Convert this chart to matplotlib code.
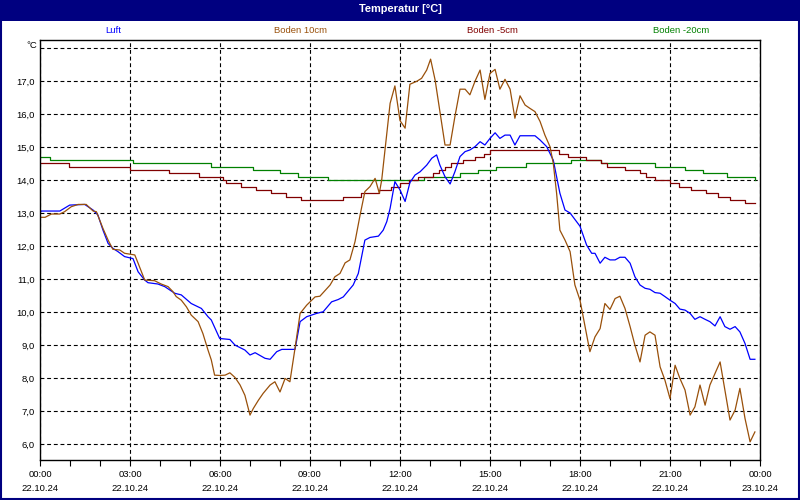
import matplotlib
matplotlib.use('Agg')
import matplotlib.pyplot as plt
from matplotlib.patches import Rectangle
from matplotlib.ticker import MultipleLocator, FixedLocator, FuncFormatter

# time in hours since 22.10.24 00:00
t_luft = [0, 0.04, 0.66, 0.99, 1.49, 1.77, 1.93, 2.1, 2.27, 2.43, 2.6, 2.82, 3.1, 3.27, 3.49, 3.6,
          3.93, 4.16, 4.49, 4.71, 5.04, 5.38, 5.6, 5.71, 5.99, 6.33, 6.5, 6.83, 7.0, 7.17, 7.5, 7.67,
          7.89, 8.06, 8.5, 8.67, 8.89, 9.22, 9.44, 9.72, 9.94, 10.11, 10.44, 10.61, 10.83, 11.0, 11.28,
          11.44, 11.56, 11.67, 11.83, 12.0, 12.17, 12.33, 12.5, 12.67, 12.89, 13.06, 13.22, 13.33, 13.5,
          13.67, 13.83, 14.0, 14.17, 14.33, 14.5, 14.67, 14.83, 15.0, 15.17, 15.33, 15.5, 15.67, 15.83,
          16.0, 16.5, 16.67, 16.89, 17.11, 17.33, 17.5, 17.67, 18.0, 18.22, 18.39, 18.5, 18.67, 18.83,
          19.0, 19.17, 19.33, 19.5, 19.67, 19.83, 20.0, 20.17, 20.33, 20.5, 20.67, 20.83, 21.0, 21.17,
          21.33, 21.5, 21.67, 21.83, 22.0, 22.17, 22.33, 22.5, 22.67, 22.83, 23.0, 23.17, 23.33, 23.5,
          23.67, 23.83]
luft = [13.0, 13.06, 13.06, 13.24, 13.26, 13.09, 12.94, 12.48, 12.08, 11.93, 11.83, 11.68, 11.62, 11.22,
        10.97, 10.89, 10.85, 10.77, 10.57, 10.52, 10.26, 10.11, 9.86, 9.76, 9.2, 9.17, 9.0, 8.85, 8.7,
        8.77, 8.6, 8.57, 8.8, 8.87, 8.87, 9.71, 9.86, 9.96, 10.01, 10.31, 10.38, 10.46, 10.82, 11.17,
        12.18, 12.26, 12.3, 12.48, 12.74, 13.14, 13.95, 13.7, 13.35, 13.92, 14.15, 14.25, 14.45, 14.66,
        14.76, 14.45, 14.1, 13.88, 14.25, 14.71, 14.86, 14.91, 15.01, 15.16, 15.06, 15.26, 15.43, 15.26,
        15.36, 15.36, 15.06, 15.34, 15.34, 15.21, 15.01, 14.6, 13.6, 13.09, 13.0, 12.6, 12.03, 11.78,
        11.78, 11.48, 11.66, 11.58, 11.58, 11.66, 11.66, 11.48, 11.07, 10.82, 10.72, 10.69, 10.59,
        10.57, 10.47, 10.36, 10.26, 10.09, 10.06, 9.96, 9.78, 9.86, 9.78, 9.71, 9.58, 9.86, 9.56, 9.48,
        9.56, 9.4, 9.05, 8.57, 8.57]

t_b10 = [0, 0.17, 0.38, 0.66, 0.82, 1.04, 1.27, 1.54, 1.77, 1.88, 2.1, 2.27, 2.43, 2.66, 2.82, 3.16,
         3.27, 3.49, 3.82, 4.04, 4.27, 4.43, 4.54, 4.71, 4.88, 5.04, 5.27, 5.43, 5.6, 5.71, 5.82, 6.0,
         6.17, 6.33, 6.5, 6.67, 6.83, 7.0, 7.11, 7.28, 7.44, 7.67, 7.83, 8.0, 8.17, 8.33, 8.5, 8.67,
         8.89, 9.17, 9.33, 9.67, 9.83, 10.0, 10.17, 10.33, 10.5, 10.67, 10.83, 11.0, 11.17, 11.31,
         11.39, 11.5, 11.67, 11.83, 12.0, 12.17, 12.33, 12.56, 12.72, 12.89, 13.02, 13.17, 13.33, 13.5,
         13.67, 13.83, 14.0, 14.17, 14.33, 14.5, 14.67, 14.83, 15.0, 15.17, 15.33, 15.5, 15.67, 15.83,
         16.0, 16.17, 16.33, 16.5, 16.67, 16.83, 17.0, 17.11, 17.22, 17.33, 17.5, 17.67, 17.83, 18.0,
         18.17, 18.33, 18.5, 18.67, 18.83, 19.0, 19.17, 19.33, 19.5, 19.67, 19.83, 20.0, 20.17, 20.33,
         20.5, 20.67, 20.83, 21.0, 21.17, 21.33, 21.5, 21.67, 21.83, 22.0, 22.17, 22.33, 22.5, 22.67,
         22.83, 23.0, 23.17, 23.33, 23.5, 23.67, 23.83]
boden10 = [12.87, 12.87, 12.97, 12.97, 13.04, 13.19, 13.26, 13.26, 13.06, 13.04, 12.53, 12.18, 11.9,
           11.88, 11.78, 11.73, 11.48, 10.97, 10.95, 10.85, 10.77, 10.62, 10.47, 10.36, 10.16, 9.91,
           9.71, 9.35, 8.85, 8.55, 8.09, 8.08, 8.09, 8.16, 8.02, 7.79, 7.48, 6.88, 7.08, 7.33, 7.54,
           7.79, 7.89, 7.58, 7.99, 7.89, 8.9, 9.96, 10.21, 10.46, 10.48, 10.82, 11.07, 11.17, 11.49,
           11.58, 12.13, 12.94, 13.65, 13.8, 14.05, 13.6, 14.0, 14.91, 16.32, 16.85, 15.8, 15.57, 16.9,
           16.99, 17.08, 17.33, 17.66, 17.03, 16.07, 15.06, 15.06, 15.92, 16.75, 16.75, 16.58, 16.99,
           17.33, 16.44, 17.23, 17.35, 16.75, 17.05, 16.75, 15.87, 16.55, 16.27, 16.17, 16.07, 15.77,
           15.36, 15.01, 14.5, 13.6, 12.48, 12.18, 11.83, 10.82, 10.36, 9.56, 8.8, 9.25, 9.5, 10.26,
           10.08, 10.41, 10.48, 10.11, 9.56, 9.0, 8.49, 9.3, 9.4, 9.3, 8.34, 7.94, 7.38, 8.39, 7.99,
           7.64, 6.88, 7.13, 7.79, 7.18, 7.79, 8.14, 8.49, 7.64, 6.73, 7.03, 7.69, 6.78, 6.07, 6.37]

t_b5 = [0, 0.95, 3.0, 4.3, 5.3, 6.1, 6.2, 6.7, 7.2, 7.7, 8.2, 8.7, 10.1, 10.7, 11.3, 11.7, 12.0, 12.3,
        12.6, 13.1, 13.3, 13.5, 13.7, 14.1, 14.5, 14.8, 15.0, 17.3, 17.6, 18.2, 18.7, 18.9, 19.5, 20.0,
        20.2, 20.5, 21.0, 21.3, 21.7, 22.2, 22.6, 23.0, 23.5, 23.83]
boden_5 = [14.5, 14.4, 14.3, 14.2, 14.1, 14.0, 13.9, 13.8, 13.7, 13.6, 13.5, 13.4, 13.5, 13.6, 13.7,
           13.8, 13.9, 14.0, 14.1, 14.2, 14.3, 14.4, 14.5, 14.6, 14.7, 14.8, 14.9, 14.8, 14.7, 14.6,
           14.5, 14.4, 14.3, 14.2, 14.1, 14.0, 13.9, 13.8, 13.7, 13.6, 13.5, 13.4, 13.3, 13.3]

t_b20 = [0, 0.33, 3.1, 5.7, 7.1, 8.0, 8.6, 9.6, 12.8, 14.0, 14.6, 15.2, 16.2, 17.7, 18.7, 20.5, 21.5,
         22.1, 22.9, 23.83]
boden_20 = [14.7, 14.6, 14.5, 14.4, 14.3, 14.2, 14.1, 14.0, 14.1, 14.2, 14.3, 14.4, 14.5, 14.6, 14.5,
            14.4, 14.3, 14.2, 14.1, 14.0]

x_labels = ['00:00\n22.10.24', '03:00\n22.10.24', '06:00\n22.10.24', '09:00\n22.10.24',
            '12:00\n22.10.24', '15:00\n22.10.24', '18:00\n22.10.24', '21:00\n22.10.24',
            '00:00\n23.10.24']
series_names = ['Luft', 'Boden 10cm', 'Boden -5cm', 'Boden -20cm']
colors = ['#0000ff', '#99500a', '#800000', '#008000']
navy = '#000080'

plt.rcParams['font.family'] = ['Liberation Sans', 'DejaVu Sans']

fig = plt.figure(figsize=(8, 5), dpi=100)
W, H = 800.0, 500.0
ax = fig.add_axes([40 / W, 1 - 460 / H, 720 / W, 420 / H])

ax.step(t_b20, boden_20, where='post', color=colors[3], lw=0.9)
ax.step(t_b5, boden_5, where='post', color=colors[2], lw=0.9)
ax.plot(t_luft, luft, color=colors[0], lw=0.9)
ax.plot(t_b10, boden10, color=colors[1], lw=0.9)

ax.set_xlim(0, 24)
ax.set_ylim(5.52, 18.24)

ax.xaxis.set_major_locator(FixedLocator(list(range(0, 25, 3))))
ax.xaxis.set_minor_locator(MultipleLocator(1))
ax.set_xticklabels(x_labels, fontsize=6.8, linespacing=1.75)
ax.tick_params(axis='x', which='both', direction='out', length=4, width=0.8, pad=3)

ax.yaxis.set_major_locator(FixedLocator(list(range(6, 19))))
ax.yaxis.set_major_formatter(FuncFormatter(lambda v, p: '' if v > 17.5 else ('%.1f' % v).replace('.', ',')))
ax.tick_params(axis='y', length=0, pad=4, labelsize=6.8)

ax.grid(True, which='major', color='black', lw=0.8, linestyle=(0, (3.5, 2.5)))
for s in ax.spines.values():
    s.set_linewidth(1.0)
    s.set_color('black')

# title bar and frame
fig.patches.append(Rectangle((0, 1 - 20.5 / H), 1, 20.5 / H, transform=fig.transFigure,
                             facecolor=navy, edgecolor='none', zorder=0))
fig.patches.append(Rectangle((0.001, 0.002), 0.998, 0.996, transform=fig.transFigure,
                             facecolor='none', edgecolor=navy, lw=1.5, zorder=5))
fig.text(0.5, 1 - 9.5 / H, 'Temperatur [°C]', color='white', fontsize=7.9, fontweight='bold',
         ha='center', va='center')

legend_x = [113, 300, 492, 681]
for name, c, lx in zip(series_names, colors, legend_x):
    fig.text(lx / W, 1 - 30.5 / H, name, color=c, fontsize=6.8, ha='center', va='center')

fig.text(37 / W, 1 - 45 / H, '°C', fontsize=6.8, ha='right', va='center')

fig.savefig('out.png', dpi=100, facecolor='white')
